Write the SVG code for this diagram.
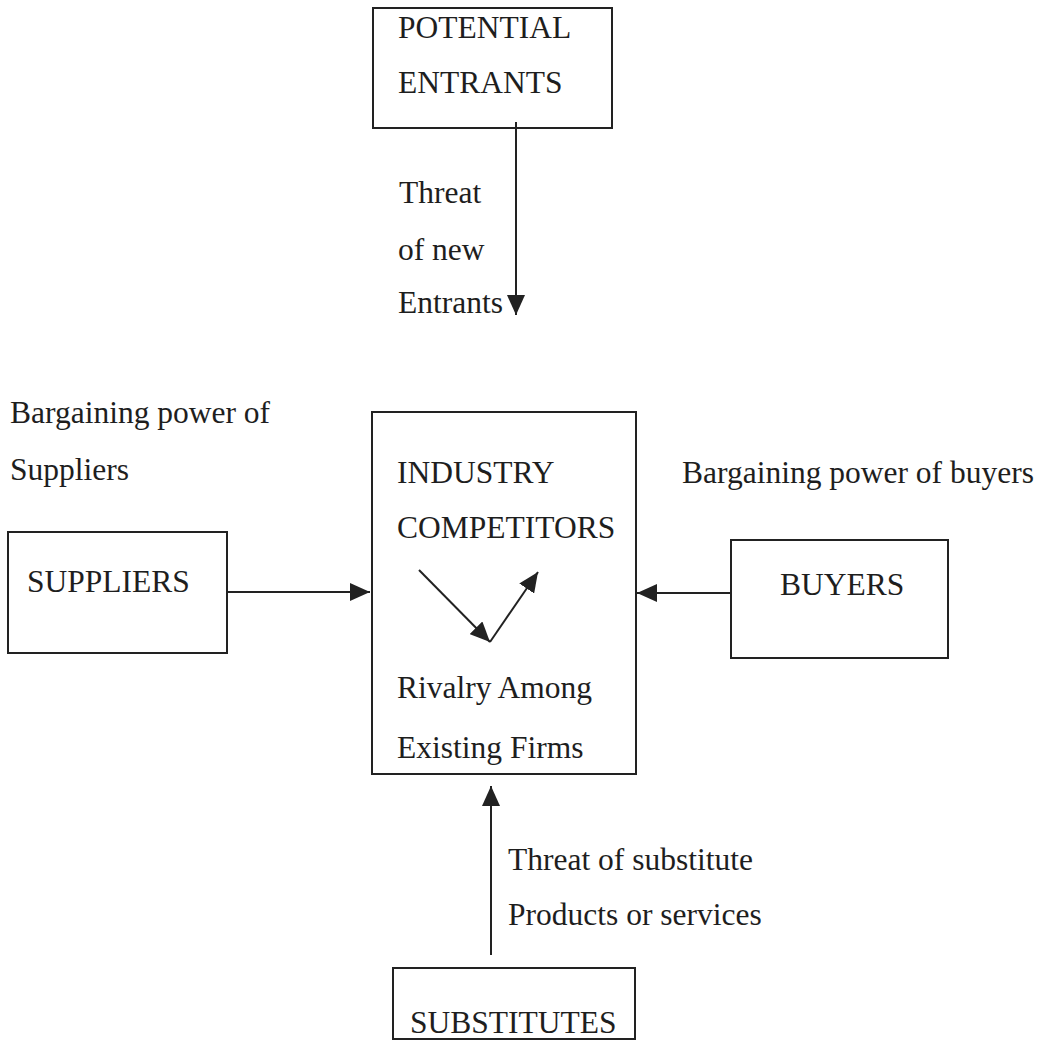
<svg xmlns="http://www.w3.org/2000/svg" width="1048" height="1041" viewBox="0 0 1048 1041">
  <style>
    .box { fill: none; stroke: #222; stroke-width: 2; }
    .lbl { font-family: "Liberation Serif", "Times New Roman", serif; font-size: 31.5px; fill: #1e1e1e; }
    .con { stroke: #222; stroke-width: 2; fill: none; marker-end: url(#arrow); }
  </style>
  <defs>
    <marker id="arrow" markerUnits="userSpaceOnUse" markerWidth="20" markerHeight="18" refX="20" refY="9" orient="auto">
      <path d="M0,0 L20,9 L0,18 z" fill="#222"/>
    </marker>
  </defs>
  <rect width="1048" height="1041" fill="#ffffff"/>

  <g id="potential-entrants">
    <rect class="box" x="373" y="8" width="239" height="120"/>
    <text class="lbl" x="398" y="38">POTENTIAL</text>
    <text class="lbl" x="398" y="93">ENTRANTS</text>
  </g>

  <g id="suppliers">
    <rect class="box" x="8" y="532" width="219" height="121"/>
    <text class="lbl" x="27" y="592">SUPPLIERS</text>
  </g>

  <g id="industry-competitors">
    <rect class="box" x="372" y="412" width="264" height="362"/>
    <text class="lbl" x="397" y="483">INDUSTRY</text>
    <text class="lbl" x="397" y="538">COMPETITORS</text>
    <text class="lbl" x="397" y="698">Rivalry Among</text>
    <text class="lbl" x="397" y="758">Existing Firms</text>
  </g>

  <g id="buyers">
    <rect class="box" x="731" y="540" width="217" height="118"/>
    <text class="lbl" x="780" y="595">BUYERS</text>
  </g>

  <g id="substitutes">
    <rect class="box" x="393" y="968" width="242" height="71"/>
    <text class="lbl" x="410" y="1033">SUBSTITUTES</text>
  </g>

  <g id="connectors">
    <line class="con" x1="516" y1="122" x2="516" y2="315"/>
    <line class="con" x1="227" y1="592" x2="370" y2="592"/>
    <line class="con" x1="731" y1="593" x2="637" y2="593"/>
    <line class="con" x1="491" y1="955" x2="491" y2="786"/>
    <line class="con" x1="419" y1="570" x2="490" y2="642"/>
    <line class="con" x1="490" y1="642" x2="538" y2="572"/>
  </g>

  <g id="connector-labels">
    <text class="lbl" x="399" y="203">Threat</text>
    <text class="lbl" x="398" y="260">of new</text>
    <text class="lbl" x="398" y="313">Entrants</text>
    <text class="lbl" x="10" y="423">Bargaining power of</text>
    <text class="lbl" x="10" y="480">Suppliers</text>
    <text class="lbl" x="682" y="483">Bargaining power of buyers</text>
    <text class="lbl" x="508" y="870">Threat of substitute</text>
    <text class="lbl" x="508" y="925">Products or services</text>
  </g>
</svg>
